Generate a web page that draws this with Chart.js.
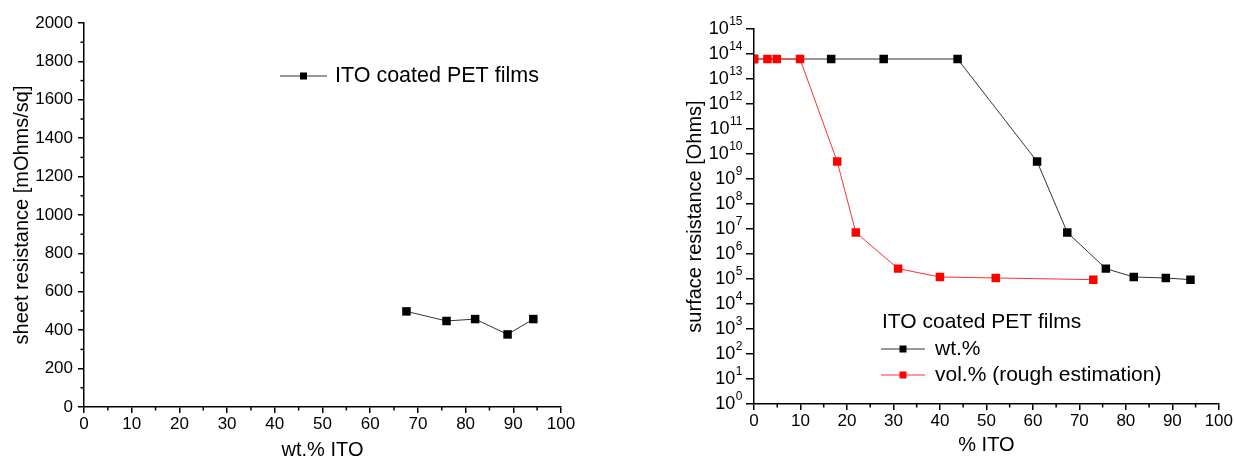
<!DOCTYPE html>
<html><head><meta charset="utf-8">
<script src="https://cdn.jsdelivr.net/npm/chart.js@4/dist/chart.umd.min.js"></script>
<style>
html,body{margin:0;padding:0;background:#fff;width:1234px;height:467px;overflow:hidden}
#wrapL{position:absolute;left:0;top:0;width:620px;height:467px}
#wrapR{position:absolute;left:620px;top:0;width:614px;height:467px}
</style></head><body>
<div id="wrapL"><canvas id="cL" width="620" height="467"></canvas></div>
<div id="wrapR"><canvas id="cR" width="614" height="467"></canvas></div>
<script>
// ---- data ----
const sheetWt  = [67.6, 76.0, 82.0, 88.8, 94.2];
const sheetRes = [498, 448, 458, 378, 458];
const wtPct    = [0, 16.6, 27.9, 43.8, 60.9, 67.4, 75.7, 81.7, 88.6, 93.9];
const volPct   = [0, 2.9, 4.9, 9.9, 17.9, 21.9, 31.0, 40.0, 52.0, 73.0];
const surfRes  = [6.3e13, 6.3e13, 6.3e13, 6.3e13, 5e9, 7.3e6, 2.6e5, 1.2e5, 1.1e5, 9.4e4];
// ---- ticks ----
const xMajor = [0,10,20,30,40,50,60,70,80,90,100];
const xMinor = [5,15,25,35,45,55,65,75,85,95];
const yLeftMajor = [0,200,400,600,800,1000,1200,1400,1600,1800,2000];
const yLeftMinor = [100,300,500,700,900,1100,1300,1500,1700,1900];
const logExps = [0,1,2,3,4,5,6,7,8,9,10,11,12,13,14,15];
// ---- text ----
const leftLegend = 'ITO coated PET films';
const rightLegendTitle = 'ITO coated PET films';
const wtLabel = 'wt.%';
const volLabel = 'vol.% (rough estimation)';

const FONT = '"Liberation Sans", Arial, Helvetica, sans-serif';
Chart.defaults.font.family = FONT;
Chart.defaults.color = '#000';

const pts = (xs, ys) => xs.map((x, i) => ({x, y: ys[i]}));

const minorTicks = {
  id: 'minorTicks',
  afterDraw(chart, args, o) {
    const ctx = chart.ctx, sx = chart.scales.x, sy = chart.scales.y;
    ctx.save(); ctx.strokeStyle = '#000'; ctx.lineWidth = 1.5;
    (o.x || []).forEach(v => {
      const x = sx.getPixelForValue(v);
      ctx.beginPath(); ctx.moveTo(x, sx.top); ctx.lineTo(x, sx.top + 3.5); ctx.stroke();
    });
    (o.y || []).forEach(v => {
      const y = sy.getPixelForValue(v);
      ctx.beginPath(); ctx.moveTo(sy.right, y); ctx.lineTo(sy.right - 3.5, y); ctx.stroke();
    });
    ctx.restore();
  }
};

const logLabels = {
  id: 'logLabels',
  afterDraw(chart, args, o) {
    if (!o.enabled) return;
    const ctx = chart.ctx, sy = chart.scales.y;
    ctx.save(); ctx.fillStyle = '#000'; ctx.textBaseline = 'middle'; ctx.textAlign = 'left';
    logExps.forEach(e => {
      const y = sy.getPixelForValue(Math.pow(10, e));
      ctx.font = '18px ' + FONT; const w1 = ctx.measureText('10').width;
      ctx.font = '12px ' + FONT; const w2 = ctx.measureText(String(e)).width;
      const right = sy.right - o.gap;
      const x0 = right - w1 - w2;
      ctx.font = '18px ' + FONT; ctx.fillText('10', x0, y);
      ctx.font = '12px ' + FONT; ctx.fillText(String(e), x0 + w1 + 0.5, y - 7);
    });
    ctx.restore();
  }
};

const customLegend = {
  id: 'customLegend',
  afterDraw(chart, args, o) {
    const ctx = chart.ctx; ctx.save();
    ctx.font = o.size + 'px ' + FONT; ctx.textBaseline = 'middle'; ctx.fillStyle = '#000';
    if (o.title) ctx.fillText(o.title, o.titleX, o.titleY);
    (o.rows || []).forEach(r => {
      const ds = chart.data.datasets[r.index];
      ctx.strokeStyle = ds.borderColor; ctx.lineWidth = 1;
      ctx.beginPath(); ctx.moveTo(o.lineX0, r.y); ctx.lineTo(o.lineX1, r.y); ctx.stroke();
      const mx = (o.lineX0 + o.lineX1) / 2, s = 7;
      ctx.fillStyle = ds.pointBackgroundColor; ctx.fillRect(mx - s/2, r.y - s/2, s, s);
      ctx.fillStyle = '#000'; ctx.fillText(ds.label, o.textX, r.y);
    });
    ctx.restore();
  }
};

function axisX(title, tb) {
  return {
    type: 'linear', min: 0, max: 100,
    afterBuildTicks: s => { s.ticks = xMajor.map(v => ({value: v})); },
    ticks: {font: {size: 17}, padding: 1, autoSkip: false, maxRotation: 0, callback: v => String(v)},
    grid: {drawOnChartArea: false, drawTicks: true, tickLength: 6, color: '#000', lineWidth: 1.5},
    border: {display: true, color: '#000', width: 1.5},
    title: {display: true, text: title, font: {size: 20}, padding: {top: 0, bottom: tb}}
  };
}

new Chart(document.getElementById('cL'), {
  type: 'scatter',
  data: {datasets: [{
    label: leftLegend, data: pts(sheetWt, sheetRes), showLine: true,
    borderColor: '#333', borderWidth: 1, pointStyle: 'rect', pointRadius: 6,
    pointBackgroundColor: '#000', pointBorderColor: '#000', pointBorderWidth: 0
  }]},
  options: {
    responsive: false, animation: false, devicePixelRatio: 1,
    layout: {padding: {left: 0, right: 59, top: 23, bottom: 0}},
    plugins: {legend: {display: false}, tooltip: {enabled: false},
      minorTicks: {x: xMinor, y: yLeftMinor},
      customLegend: {size: 21.5, lineX0: 280, lineX1: 327, textX: 335, rows: [{index: 0, y: 76}]}},
    scales: {
      x: Object.assign(axisX('wt.% ITO', 5), {afterFit: s => { s.height = 60; }}),
      y: {
        type: 'linear', min: 0, max: 2000,
        afterBuildTicks: s => { s.ticks = yLeftMajor.map(v => ({value: v})); },
        afterFit: s => { s.width = 84; },
        ticks: {font: {size: 17}, padding: 5, autoSkip: false, callback: v => String(v)},
        grid: {drawOnChartArea: false, drawTicks: true, tickLength: 6, color: '#000', lineWidth: 1.5},
        border: {display: true, color: '#000', width: 1.5},
        title: {display: true, text: 'sheet resistance [mOhms/sq]', font: {size: 20}, padding: {top: 10, bottom: 0}}
      }
    }
  },
  plugins: [minorTicks, customLegend]
});

new Chart(document.getElementById('cR'), {
  type: 'scatter',
  data: {datasets: [
    {label: wtLabel, data: pts(wtPct, surfRes), showLine: true, order: 1,
     borderColor: '#333', borderWidth: 1, pointStyle: 'rect', pointRadius: 6,
     pointBackgroundColor: '#000', pointBorderColor: '#000', pointBorderWidth: 0},
    {label: volLabel, data: pts(volPct, surfRes), showLine: true, order: 0,
     borderColor: '#ff3030', borderWidth: 1, pointStyle: 'rect', pointRadius: 6,
     pointBackgroundColor: '#ff0000', pointBorderColor: '#ff0000', pointBorderWidth: 0}
  ]},
  options: {
    responsive: false, animation: false, devicePixelRatio: 1,
    layout: {padding: {left: 0, right: 13, top: 29, bottom: 0}},
    plugins: {legend: {display: false}, tooltip: {enabled: false},
      minorTicks: {x: xMinor},
      logLabels: {enabled: true, gap: 12},
      customLegend: {size: 21, title: rightLegendTitle, titleX: 262, titleY: 322,
        lineX0: 261, lineX1: 305, textX: 315, rows: [{index: 0, y: 349}, {index: 1, y: 375}]}},
    scales: {
      x: Object.assign(axisX('% ITO', 10), {afterFit: s => { s.height = 63; }}),
      y: {
        type: 'logarithmic', min: 1, max: 1e15,
        afterBuildTicks: s => { s.ticks = logExps.map(e => ({value: Math.pow(10, e)})); },
        afterFit: s => { s.width = 134; },
        ticks: {callback: () => '', autoSkip: false},
        grid: {drawOnChartArea: false, drawTicks: true, tickLength: 8, color: '#000', lineWidth: 1.5},
        border: {display: true, color: '#000', width: 1.5},
        title: {display: true, text: 'surface resistance [Ohms]', font: {size: 20}, padding: {top: 63, bottom: 0}}
      }
    }
  },
  plugins: [minorTicks, logLabels, customLegend]
});
</script>
</body></html>
